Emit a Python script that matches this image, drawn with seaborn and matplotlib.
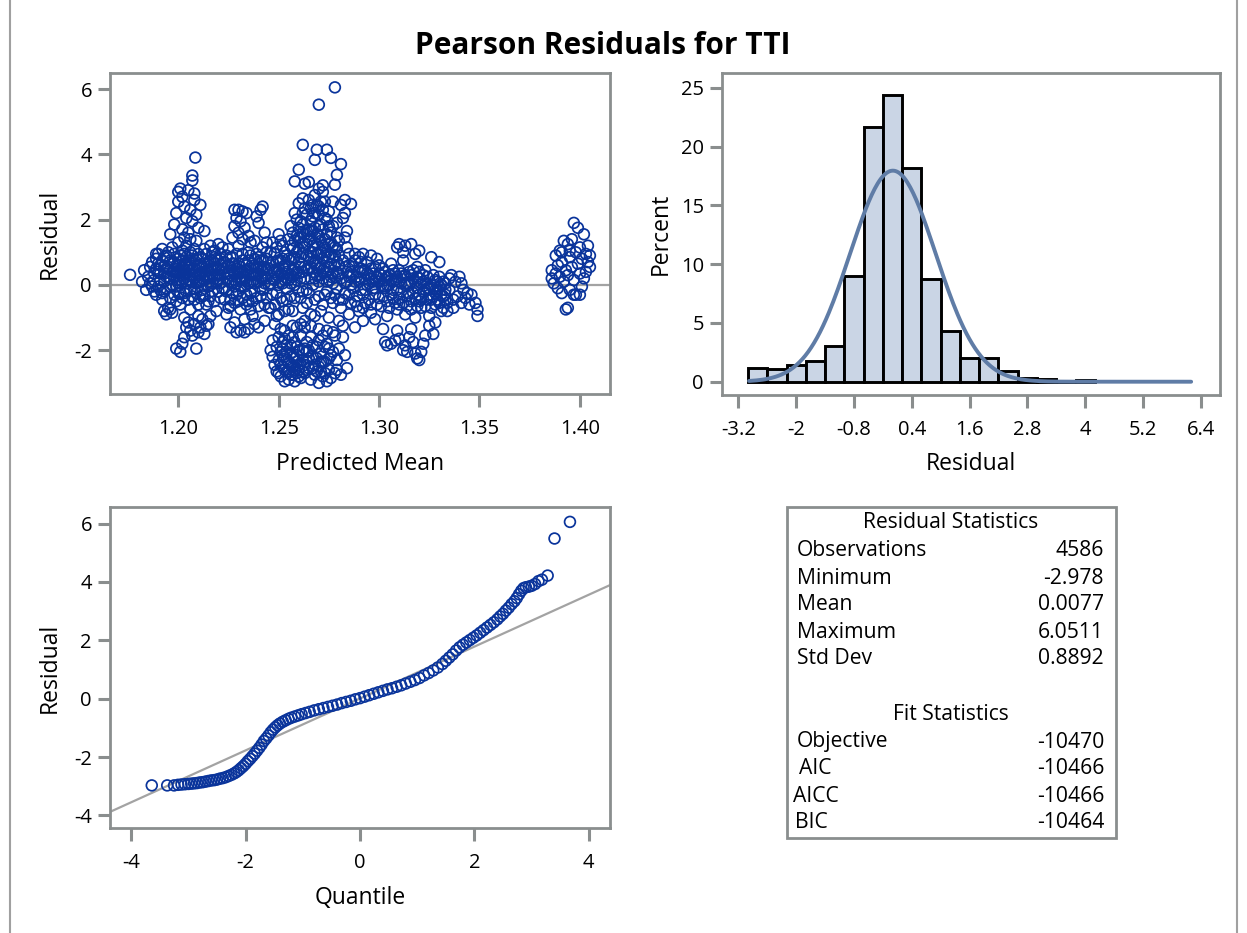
import numpy as np
import pandas as pd
import seaborn as sns
import matplotlib.pyplot as plt
from matplotlib.patches import Rectangle
from matplotlib.lines import Line2D
from statistics import NormalDist

# ---- residual statistics (from the table) ----
n_obs = 4586
res_min = -2.978
res_mean = 0.0077
res_max = 6.0511
res_std = 0.8892
stat_labels = ["Observations", "Minimum", "Mean", "Maximum", "Std Dev"]
stat_values = ["4586", "-2.978", "0.0077", "6.0511", "0.8892"]
fit_labels = ["Objective", "AIC", "AICC", "BIC"]
fit_values = ["-10470", "-10466", "-10466", "-10464"]

# ---- histogram of residuals (percent per 0.4 bin) ----
hist_mid = [-2.8, -2.4, -2.0, -1.6, -1.2, -0.8, -0.4, 0.0, 0.4, 0.8, 1.2,
            1.6, 2.0, 2.4, 2.8, 3.2, 4.0]
hist_pct = [1.13, 1.1, 1.4, 1.75, 3.0, 8.95, 21.7, 24.4, 18.2, 8.76, 4.3,
            1.98, 1.98, 0.93, 0.28, 0.2, 0.15]
bin_width = 0.4

# ---- residual vs predicted mean ----
left_band = [(1.176, 0.31), (1.182, 0.10), (1.183, 0.45), (1.184, -0.15), (1.185, 0.25), (1.186, 0.55),
             (1.187, -0.05), (1.188, 0.35), (1.189, 0.80), (1.189, -0.30), (1.191, 0.15), (1.191, 0.60),
             (1.192, 1.10), (1.192, -0.45), (1.193, 0.35), (1.194, 0.90), (1.194, -0.10), (1.195, -0.70),
             (1.195, 0.55), (1.196, 0.20), (1.197, 1.15), (1.197, -0.85), (1.198, 0.70), (1.198, -0.30),
             (1.199, 0.40), (1.200, 1.30), (1.200, 0.05), (1.201, -0.60), (1.201, 0.90), (1.202, 0.30),
             (1.203, -1.00), (1.203, 0.65), (1.204, 1.20), (1.204, -0.20), (1.205, 0.45), (1.206, -0.75),
             (1.206, 1.00), (1.207, 0.10), (1.208, 0.75), (1.208, -0.45), (1.209, 1.35), (1.210, 0.30),
             (1.210, -0.95), (1.211, 0.85), (1.212, -0.15), (1.212, 0.55), (1.213, 1.10), (1.214, -0.60),
             (1.214, 0.25), (1.215, 0.70), (1.216, -0.35), (1.217, 1.00), (1.217, 0.05), (1.218, 0.45),
             (1.219, -0.80), (1.219, 0.80), (1.220, 0.15), (1.221, -0.40), (1.221, 0.60), (1.222, 1.15),
             (1.190, 0.40), (1.193, -0.20), (1.196, 0.75), (1.199, -0.05), (1.202, 0.55), (1.205, 0.15),
             (1.207, 0.50), (1.209, -0.25), (1.211, 0.10), (1.213, 0.40), (1.215, -0.05), (1.218, 0.20),
             (1.220, 0.50), (1.198, 0.25), (1.204, 0.35), (1.210, 0.60),
             (1.186, 0.05), (1.187, 0.70), (1.188, -0.20), (1.189, 0.50), (1.190, -0.05), (1.190, 0.95),
             (1.191, 0.35), (1.192, -0.25), (1.192, 0.75), (1.193, 0.10), (1.194, 0.50), (1.195, 0.25),
             (1.195, 1.00), (1.196, -0.40), (1.197, 0.40), (1.197, 0.00), (1.198, 0.95), (1.199, 0.60),
             (1.199, -0.50), (1.200, 0.35), (1.200, 0.80), (1.201, -0.25), (1.201, 0.15), (1.202, 1.05),
             (1.202, -0.40), (1.203, 0.20), (1.203, 0.95), (1.204, 0.60), (1.205, -0.45), (1.205, 0.75),
             (1.206, 0.30), (1.206, -0.15), (1.207, 0.90), (1.207, -0.35), (1.208, 0.20), (1.208, 1.10),
             (1.209, 0.45), (1.209, 0.05), (1.210, 0.95), (1.210, -0.60), (1.211, 0.35), (1.211, -0.40),
             (1.212, 0.80), (1.212, 0.20), (1.213, -0.30), (1.213, 0.65), (1.214, 0.00), (1.214, 0.95),
             (1.215, 0.45), (1.215, -0.50), (1.216, 0.25), (1.216, 0.75), (1.217, -0.20), (1.217, 0.50),
             (1.218, -0.50), (1.218, 0.85), (1.219, 0.30), (1.219, 0.05), (1.220, -0.20), (1.220, 0.75),
             (1.221, 0.30), (1.222, -0.10), (1.222, 0.50),
             (1.188, 0.15), (1.189, 0.95), (1.190, 0.65), (1.191, -0.15), (1.193, 0.55), (1.193, 0.85),
             (1.194, 0.25), (1.196, 0.45), (1.196, -0.05), (1.197, 0.65), (1.198, 0.45), (1.199, 0.15),
             (1.200, 0.60), (1.200, -0.25), (1.201, 0.45), (1.202, 0.75), (1.202, 0.10), (1.203, -0.25),
             (1.203, 0.45), (1.204, 0.85), (1.204, 0.05), (1.205, 0.55), (1.206, 0.10), (1.206, 0.65),
             (1.207, 0.30), (1.208, -0.10), (1.208, 0.50), (1.209, 0.80), (1.209, 0.25), (1.210, 0.10),
             (1.211, 0.60), (1.212, 0.40), (1.212, -0.35), (1.213, 0.15), (1.214, 0.55), (1.215, 0.20),
             (1.216, 0.50), (1.216, 0.00), (1.217, 0.30), (1.218, 0.65), (1.219, 0.55), (1.220, 0.30),
             (1.221, 0.05), (1.221, 0.80)]
left_spikes = [(1.196, 1.55), (1.198, 1.85), (1.199, 2.20), (1.200, 2.55), (1.200, 2.85), (1.201, 2.95),
               (1.202, 2.70), (1.202, 1.70), (1.203, 2.40), (1.204, 2.05), (1.205, 2.90), (1.205, 1.60),
               (1.206, 2.30), (1.207, 3.20), (1.207, 1.95), (1.208, 2.60), (1.207, 3.35), (1.209, 2.15),
               (1.208, 2.80), (1.210, 1.75), (1.2085, 3.90), (1.211, 2.45), (1.213, 1.65), (1.203, 1.45),
               (1.206, 1.40), (1.193, -0.80), (1.194, -0.90), (1.196, -0.75), (1.199, -1.95), (1.201, -2.05),
               (1.202, -1.80), (1.203, -1.60), (1.204, -1.30), (1.205, -1.15), (1.206, -1.40), (1.207, -1.55),
               (1.208, -1.20), (1.209, -1.95), (1.210, -1.45), (1.211, -1.30), (1.212, -1.05), (1.213, -1.50),
               (1.214, -1.25), (1.215, -1.20), (1.216, -0.95), (1.216, 1.20), (1.218, 1.05), (1.220, 1.25),
               (1.221, 0.95)]
mid_band = [(1.223, -0.10), (1.223, 0.70), (1.224, -0.90), (1.225, 0.35), (1.225, 1.10), (1.226, -0.45),
            (1.227, 0.05), (1.227, 0.85), (1.228, -1.15), (1.229, 0.50), (1.229, -0.30), (1.230, 1.20),
            (1.231, 0.20), (1.231, -0.75), (1.232, 0.75), (1.233, -0.05), (1.233, -1.05), (1.234, 0.45),
            (1.235, 1.00), (1.235, -0.50), (1.236, 0.10), (1.237, 0.65), (1.237, -0.95), (1.238, -0.20),
            (1.239, 0.95), (1.239, 0.30), (1.240, -0.65), (1.241, 0.55), (1.241, -0.10), (1.242, 1.15),
            (1.243, -1.10), (1.243, 0.25), (1.244, 0.80), (1.244, -0.40), (1.245, 0.00), (1.224, 0.20),
            (1.226, 0.55), (1.228, 0.15), (1.230, -0.20), (1.232, 0.40), (1.234, -0.30), (1.236, 0.50),
            (1.238, 0.30), (1.240, 0.10), (1.242, 0.45), (1.236, -0.75), (1.226, -0.65),
            (1.223, 0.40), (1.223, -0.45), (1.224, 0.90), (1.224, -0.20), (1.225, 0.60), (1.225, -0.70),
            (1.226, 0.10), (1.226, 0.85), (1.227, -0.25), (1.227, 0.45), (1.228, -0.55), (1.228, 0.65),
            (1.229, 0.95), (1.229, 0.05), (1.230, 0.35), (1.230, -0.50), (1.231, 0.55), (1.231, -0.05),
            (1.232, -0.40), (1.232, 0.95), (1.233, 0.25), (1.233, 0.65), (1.234, -0.60), (1.234, 0.10),
            (1.235, 0.30), (1.235, 0.75), (1.236, -0.25), (1.236, 0.90), (1.237, 0.35), (1.237, -0.50),
            (1.238, 0.60), (1.238, 0.05), (1.239, -0.40), (1.239, 0.55), (1.240, 0.35), (1.240, 0.85),
            (1.241, -0.35), (1.241, 0.25), (1.242, -0.15), (1.242, 0.75), (1.243, -0.60), (1.243, 0.55),
            (1.244, 0.20), (1.244, 1.00), (1.245, -0.70), (1.245, 0.50),
            (1.224, 0.55), (1.225, 0.10), (1.226, 0.30), (1.227, 0.65), (1.228, -0.05), (1.228, 0.40),
            (1.229, 0.25), (1.230, 0.65), (1.231, 0.40), (1.232, 0.15), (1.233, 0.45), (1.234, 0.60),
            (1.235, 0.05), (1.236, 0.30), (1.237, 0.10), (1.238, 0.80), (1.239, 0.10), (1.240, 0.55),
            (1.241, 0.75), (1.242, 0.20), (1.243, 0.05), (1.244, 0.45),
            (1.227, 1.45), (1.228, 1.80), (1.228, 2.30), (1.229, 2.05), (1.230, 1.60), (1.230, 2.30),
            (1.231, 1.95), (1.232, 2.25), (1.232, 1.40), (1.233, 1.75), (1.234, 2.20), (1.235, 1.50),
            (1.238, 1.35), (1.239, 2.10), (1.240, 1.90), (1.241, 2.30), (1.242, 2.40), (1.243, 1.60),
            (1.244, 1.30), (1.236, 1.30), (1.226, -1.30), (1.229, -1.45), (1.231, -1.40), (1.233, -1.45),
            (1.235, -1.35), (1.238, -1.20), (1.240, -1.30)]
centre_band = [(1.246, 0.60), (1.246, -0.70), (1.247, 1.30), (1.247, 0.20), (1.248, -1.20), (1.248, 0.95),
               (1.249, -0.25), (1.249, 0.45), (1.250, 1.55), (1.250, -0.90), (1.251, 0.10), (1.251, 0.75),
               (1.252, -0.50), (1.252, 1.20), (1.253, -1.40), (1.253, 0.35), (1.254, 0.90), (1.254, -0.10),
               (1.255, 1.40), (1.255, -0.75), (1.256, 0.30), (1.256, 1.80), (1.257, -0.80), (1.257, 1.10),
               (1.258, 2.20), (1.258, 0.00), (1.259, 1.50), (1.259, -1.30), (1.260, 0.70), (1.260, 2.50),
               (1.261, -0.40), (1.261, 1.95), (1.262, 0.40), (1.262, 1.30), (1.263, -1.10), (1.263, 2.35),
               (1.264, 0.90), (1.264, -0.15), (1.265, 1.70), (1.265, 2.60), (1.266, 0.20), (1.266, -0.90),
               (1.267, 1.20), (1.267, 2.10), (1.268, -0.45), (1.268, 0.65), (1.269, 1.55), (1.269, 2.45),
               (1.270, 0.10), (1.270, -1.35), (1.271, 1.00), (1.271, 1.85), (1.272, -0.60), (1.272, 2.30),
               (1.273, 0.50), (1.273, 1.40), (1.274, -0.20), (1.274, 2.00), (1.275, 0.85), (1.275, -1.00),
               (1.276, 1.60), (1.276, 0.25), (1.277, 2.55), (1.277, -0.55), (1.278, 1.15), (1.278, 0.60),
               (1.279, 1.90), (1.279, -0.10), (1.280, 0.35), (1.280, 1.35), (1.258, 0.85), (1.262, -0.70),
               (1.266, 0.55), (1.270, 0.95), (1.274, 0.40), (1.262, 2.65), (1.268, 2.75), (1.272, 2.85),
               (1.266, 1.40),
               (1.246, 0.05), (1.246, 1.00), (1.247, -0.30), (1.247, 0.70), (1.248, 0.40), (1.248, -0.60),
               (1.249, 1.15), (1.249, -0.95), (1.250, 0.25), (1.250, 0.75), (1.251, -0.40), (1.251, 1.35),
               (1.252, 0.05), (1.252, 0.55), (1.253, -0.80), (1.253, 1.00), (1.254, 0.40), (1.254, -0.45),
               (1.255, 0.15), (1.255, 0.80), (1.256, -0.35), (1.256, 1.20), (1.257, 0.45), (1.257, 1.60),
               (1.258, -0.40), (1.258, 1.35), (1.259, 0.40), (1.259, 2.00), (1.260, -0.20), (1.260, 1.10),
               (1.261, 0.55), (1.261, 1.45), (1.262, -0.20), (1.262, 0.95), (1.262, 1.85), (1.263, 0.20),
               (1.263, 1.55), (1.264, -0.55), (1.264, 1.25), (1.264, 2.15), (1.265, 0.50), (1.265, -0.25),
               (1.266, 1.00), (1.266, 1.95), (1.267, 0.00), (1.267, 0.70), (1.267, 1.65), (1.268, -0.95),
               (1.268, 1.30), (1.268, 2.20), (1.269, 0.30), (1.269, 0.95), (1.270, -0.35), (1.270, 1.50),
               (1.270, 2.15), (1.271, 0.55), (1.271, -0.80), (1.272, 0.20), (1.272, 1.20), (1.272, 1.70),
               (1.273, -0.30), (1.273, 0.90), (1.273, 2.05), (1.274, 0.70), (1.274, 1.55), (1.275, 0.15),
               (1.275, 1.25), (1.275, 2.25), (1.276, -0.40), (1.276, 0.95), (1.277, 0.35), (1.277, 1.80),
               (1.278, -0.30), (1.278, 0.90), (1.279, 0.40), (1.279, 1.45), (1.280, -0.45), (1.280, 0.90),
               (1.260, 1.75), (1.266, 2.35), (1.271, 2.55), (1.277, 1.20),
               (1.247, 0.45), (1.248, 0.15), (1.249, 0.70), (1.250, 0.00), (1.250, 0.50), (1.251, 0.35),
               (1.252, 0.80), (1.253, 0.15), (1.253, 0.60), (1.254, 0.20), (1.255, 0.55), (1.256, 0.75),
               (1.256, 0.05), (1.257, 0.25), (1.257, 0.80), (1.258, 0.50), (1.259, 0.15), (1.259, 1.00),
               (1.260, 0.35), (1.260, 1.45), (1.261, 0.85), (1.261, 0.20), (1.262, 1.60), (1.263, 0.55),
               (1.263, 1.15), (1.264, 0.45), (1.264, 1.65), (1.265, 0.85), (1.265, 1.35), (1.266, 0.80),
               (1.266, 1.65), (1.267, 0.40), (1.267, 1.00), (1.268, 0.20), (1.268, 1.75), (1.269, 0.60),
               (1.269, 1.25), (1.270, 0.50), (1.270, 1.80), (1.271, 0.30), (1.271, 1.35), (1.272, 0.80),
               (1.272, 0.45), (1.273, 1.15), (1.274, 0.10), (1.274, 1.00), (1.275, 0.55), (1.275, 1.80),
               (1.276, 0.65), (1.276, 1.30), (1.277, 0.05), (1.277, 0.85), (1.278, 0.25), (1.279, 0.70),
               (1.279, 1.10), (1.280, 0.60), (1.262, 2.20), (1.267, 2.45), (1.270, 2.40), (1.273, 2.55)]
centre_spikes = [(1.262, 4.29), (1.269, 4.14), (1.274, 4.14), (1.268, 3.83), (1.276, 3.89), (1.281, 3.70),
                 (1.279, 3.37), (1.278, 3.07), (1.260, 3.53), (1.258, 3.17), (1.286, 2.48), (1.263, 3.10),
                 (1.265, 3.15), (1.270, 2.95), (1.272, 3.05), (1.283, 2.20), (1.284, 1.65), (1.283, 1.45),
                 (1.282, 2.05), (1.281, 2.45), (1.283, 2.60), (1.284, 1.15), (1.270, 5.52), (1.278, 6.05),
                 (1.246, -2.00), (1.247, -2.20), (1.247, -1.70), (1.248, -2.45), (1.249, -1.90), (1.249, -2.65),
                 (1.250, -2.30), (1.250, -1.60), (1.251, -2.80), (1.251, -2.05), (1.252, -2.50), (1.252, -1.75),
                 (1.253, -2.95), (1.253, -2.20), (1.254, -2.65), (1.254, -1.85), (1.255, -2.40), (1.255, -2.90),
                 (1.256, -2.10), (1.256, -2.75), (1.257, -1.60), (1.257, -2.50), (1.258, -2.95), (1.258, -2.25),
                 (1.259, -1.90), (1.259, -2.70), (1.260, -2.45), (1.260, -2.00), (1.261, -2.85), (1.261, -1.55),
                 (1.262, -2.30), (1.263, -2.70), (1.264, -2.05), (1.265, -2.55), (1.264, -1.75),
                 (1.266, -1.60), (1.267, -2.20), (1.268, -2.75), (1.269, -1.90), (1.270, -2.50), (1.270, -3.00),
                 (1.271, -2.10), (1.272, -2.80), (1.272, -1.55), (1.273, -2.35), (1.274, -2.95), (1.274, -1.80),
                 (1.275, -2.60), (1.276, -2.15), (1.277, -1.45), (1.278, -2.70), (1.279, -2.30), (1.280, -1.95),
                 (1.281, -2.75), (1.282, -1.60), (1.283, -2.15), (1.284, -2.55), (1.282, -1.25), (1.280, -1.10),
                 (1.250, -2.70), (1.251, -1.35), (1.252, -2.15), (1.253, -2.60), (1.254, -2.30), (1.255, -1.55),
                 (1.256, -2.45), (1.257, -2.20), (1.258, -2.60), (1.259, -2.35), (1.260, -2.80), (1.262, -2.00),
                 (1.263, -2.45), (1.263, -1.30), (1.265, -2.25), (1.266, -2.90), (1.267, -1.85), (1.268, -2.45),
                 (1.269, -2.25), (1.271, -2.65), (1.272, -2.35), (1.273, -1.90), (1.275, -2.25), (1.276, -2.85),
                 (1.277, -2.05), (1.279, -2.60), (1.257, -1.25), (1.261, -1.20), (1.266, -1.25), (1.270, -1.70),
                 (1.274, -1.40), (1.278, -1.55),
                 (1.251, -2.45), (1.252, -1.95), (1.253, -1.65), (1.254, -2.05), (1.255, -2.65), (1.256, -1.85),
                 (1.257, -2.75), (1.258, -1.75), (1.259, -2.15), (1.260, -2.60), (1.261, -2.40), (1.262, -2.65),
                 (1.263, -1.95), (1.264, -2.35), (1.265, -2.00), (1.267, -2.55), (1.269, -2.65), (1.271, -2.35),
                 (1.273, -2.70), (1.275, -1.95)]
right_band = [(1.281, 0.20), (1.281, -0.70), (1.282, 0.75), (1.283, -0.25), (1.284, 0.40), (1.285, -0.90),
              (1.285, 0.95), (1.286, 0.00), (1.287, 0.55), (1.288, -0.50), (1.289, 0.25), (1.290, 0.85),
              (1.290, -0.80), (1.291, -0.15), (1.292, 0.45), (1.293, -0.55), (1.294, 0.70), (1.295, 0.05),
              (1.296, -0.85), (1.297, 0.35), (1.298, -0.30), (1.299, 0.80), (1.300, 0.10), (1.301, -0.65),
              (1.302, 0.50), (1.303, -0.10), (1.304, -0.95), (1.305, 0.30), (1.306, 0.65), (1.307, -0.40),
              (1.308, 0.15), (1.309, -0.75), (1.310, 0.45), (1.311, -0.20), (1.312, 0.75), (1.313, -0.90),
              (1.314, 0.05), (1.315, 0.40), (1.316, -0.50), (1.317, 0.20), (1.318, -1.00), (1.319, 0.55),
              (1.320, -0.30), (1.321, -0.70), (1.322, 0.10), (1.323, 0.45), (1.324, -0.45), (1.325, -0.95),
              (1.326, 0.00), (1.327, 0.30), (1.328, -0.60), (1.329, -0.20), (1.330, 0.25), (1.331, -0.80),
              (1.332, -0.35), (1.333, 0.05), (1.334, -0.55), (1.335, -0.15), (1.283, 0.55), (1.287, -0.10),
              (1.289, -0.35), (1.293, 0.20), (1.296, 0.50), (1.300, -0.40), (1.304, 0.25), (1.307, 0.10),
              (1.311, 0.35), (1.314, -0.65), (1.317, -0.25), (1.320, 0.20), (1.323, -0.15), (1.326, -0.45),
              (1.329, 0.10), (1.332, -0.70), (1.298, 0.15), (1.309, -0.15), (1.292, -0.30), (1.302, -0.05),
              (1.316, 0.10), (1.324, -0.10),
              (1.282, -0.45), (1.284, 0.10), (1.285, 0.60), (1.286, -0.55), (1.287, 0.30), (1.288, 0.75),
              (1.289, -0.65), (1.290, 0.10), (1.291, 0.50), (1.292, -0.70), (1.293, -0.15), (1.294, 0.35),
              (1.295, -0.45), (1.296, 0.20), (1.297, -0.10), (1.298, 0.55), (1.299, -0.60), (1.300, 0.35),
              (1.301, 0.00), (1.302, -0.35), (1.303, 0.40), (1.304, -0.50), (1.305, 0.00), (1.306, -0.30),
              (1.307, 0.45), (1.308, -0.55), (1.309, 0.25), (1.310, -0.40), (1.311, 0.05), (1.312, -0.55),
              (1.313, 0.30), (1.314, -0.35), (1.315, 0.00), (1.316, -0.75), (1.317, 0.45), (1.318, -0.40),
              (1.319, -0.10), (1.320, 0.40), (1.321, -0.45), (1.322, -0.20), (1.323, -0.65), (1.324, 0.25),
              (1.325, -0.30), (1.326, -0.70), (1.327, -0.10), (1.328, 0.15), (1.329, -0.45), (1.330, -0.05),
              (1.331, -0.30), (1.332, 0.10), (1.333, -0.45), (1.334, -0.80), (1.335, 0.20), (1.333, -0.30),
              (1.319, -0.65), (1.305, -0.70), (1.291, 0.70), (1.300, 0.60),
              (1.283, 0.05), (1.285, 0.25), (1.286, 0.40), (1.288, 0.10), (1.290, 0.40), (1.291, 0.20),
              (1.293, 0.45), (1.294, 0.00), (1.295, 0.30), (1.297, 0.10), (1.298, -0.10), (1.299, 0.25),
              (1.301, 0.30), (1.303, 0.15), (1.304, 0.00), (1.306, 0.15), (1.307, -0.15), (1.308, 0.35),
              (1.310, 0.10), (1.312, 0.25), (1.313, 0.00), (1.315, -0.25), (1.316, 0.30), (1.318, 0.10),
              (1.319, 0.25), (1.321, 0.05), (1.322, 0.30), (1.324, 0.05), (1.325, -0.10), (1.327, -0.35),
              (1.328, -0.25), (1.330, -0.55), (1.331, 0.00), (1.333, -0.15), (1.310, -0.60), (1.296, -0.60),
              (1.285, -0.30), (1.320, -0.50)]
right_spikes = [(1.288, 0.95), (1.292, 0.95), (1.296, 0.90), (1.309, 1.15), (1.310, 1.25), (1.312, 1.00),
                (1.313, 1.20), (1.316, 1.25), (1.318, 0.95), (1.320, 1.05), (1.326, 0.85), (1.330, 0.70),
                (1.302, -1.35), (1.303, -1.75), (1.304, -1.85), (1.306, -1.80), (1.308, -1.70), (1.309, -1.40),
                (1.310, -1.65), (1.312, -2.00), (1.313, -1.85), (1.314, -2.05), (1.315, -1.60), (1.316, -1.35),
                (1.317, -1.75), (1.318, -2.10), (1.319, -2.25), (1.320, -2.30), (1.321, -2.05), (1.322, -1.80),
                (1.323, -1.55), (1.325, -1.25), (1.327, -1.50), (1.328, -1.15), (1.298, -1.05), (1.292, -1.10),
                (1.288, -1.30), (1.336, 0.30), (1.337, -0.70), (1.338, 0.10), (1.339, -0.35), (1.340, 0.25),
                (1.341, -0.55), (1.342, -0.15), (1.343, -0.40), (1.344, -0.25), (1.345, -0.60), (1.346, -0.30),
                (1.348, -0.55), (1.349, -0.75), (1.349, -0.95), (1.337, -0.45), (1.341, 0.05)]
far_cluster = [(1.386, 0.45), (1.386, 0.20), (1.387, 0.05), (1.388, 0.35), (1.388, 0.90), (1.389, -0.10),
               (1.389, 0.60), (1.390, 0.25), (1.390, 1.05), (1.391, -0.25), (1.391, 0.70), (1.392, 0.10),
               (1.392, 1.35), (1.393, 0.45), (1.393, -0.75), (1.394, 1.25), (1.394, 0.30), (1.395, 0.85),
               (1.395, -0.15), (1.396, 1.40), (1.396, 0.55), (1.397, 1.90), (1.397, 0.15), (1.398, 1.00),
               (1.398, -0.30), (1.399, 0.65), (1.399, 1.75), (1.400, 0.35), (1.400, 1.15), (1.401, -0.05),
               (1.401, 0.80), (1.402, 0.20), (1.402, 1.55), (1.403, 0.95), (1.403, 0.40), (1.404, 1.20),
               (1.404, 0.70), (1.405, 0.90), (1.405, 0.55), (1.394, -0.70), (1.397, -0.30), (1.400, -0.30),
               (1.391, 1.00), (1.395, 1.05)]

# ---- normal Q-Q points (quantile, residual) ----
qq_quantile = [-3.64, -3.37, -3.25, -3.18, -3.12, -3.06, -3.00, -2.95, -2.90, -2.85, -2.80, -2.75, -2.70,
               -2.65, -2.60, -2.55, -2.50, -2.45, -2.40, -2.35, -2.30, -2.25, -2.20, -2.16, -2.12, -2.08,
               -2.04, -2.00, -1.96, -1.92, -1.88, -1.84, -1.80, -1.76, -1.72, -1.68, -1.64, -1.60, -1.56,
               -1.52, -1.48, -1.44, -1.40, -1.35, -1.30, -1.25, -1.20, -1.14, -1.08, -1.02, -0.95, -0.88,
               -0.80, -0.72, -0.64, -0.56, -0.48, -0.40, -0.32, -0.24, -0.16, -0.08, 0.00, 0.08, 0.16, 0.24,
               0.32, 0.40, 0.48, 0.56, 0.64, 0.72, 0.80, 0.88, 0.96, 1.04, 1.12, 1.20, 1.28, 1.36, 1.44,
               1.50, 1.56, 1.62, 1.68, 1.74, 1.80, 1.86, 1.92, 1.98, 2.04, 2.10, 2.16, 2.22, 2.28, 2.34,
               2.40, 2.45, 2.50, 2.55, 2.60, 2.65, 2.70, 2.74, 2.78, 2.82, 2.86, 2.90, 2.95, 3.00, 3.06,
               3.12, 3.18, 3.28, 3.40, 3.67]
qq_residual = [-2.97, -2.97, -2.97, -2.95, -2.94, -2.93, -2.92, -2.91, -2.90, -2.89, -2.87, -2.86, -2.84,
               -2.82, -2.80, -2.79, -2.77, -2.74, -2.72, -2.69, -2.65, -2.61, -2.56, -2.51, -2.45, -2.38,
               -2.31, -2.23, -2.14, -2.06, -1.97, -1.88, -1.78, -1.68, -1.57, -1.45, -1.36, -1.26, -1.15,
               -1.06, -0.98, -0.91, -0.85, -0.79, -0.74, -0.69, -0.65, -0.61, -0.57, -0.53, -0.49, -0.45,
               -0.40, -0.36, -0.32, -0.28, -0.24, -0.20, -0.15, -0.11, -0.07, -0.02, 0.02, 0.07, 0.12, 0.17,
               0.22, 0.27, 0.32, 0.36, 0.41, 0.46, 0.52, 0.58, 0.64, 0.71, 0.80, 0.88, 0.97, 1.07, 1.19,
               1.30, 1.41, 1.52, 1.65, 1.76, 1.85, 1.93, 2.01, 2.09, 2.17, 2.26, 2.35, 2.44, 2.53, 2.62,
               2.72, 2.82, 2.91, 3.02, 3.12, 3.24, 3.34, 3.45, 3.58, 3.70, 3.79, 3.82, 3.84, 3.87, 3.93,
               4.03, 4.08, 4.22, 5.49, 6.06]

# ---- style ----
W, H = 1247, 933
blue = "#0a349b"
grey = "#8a8e8e"
sns.set_theme(style="white")
plt.rcParams["font.family"] = ["Open Sans", "DejaVu Sans"]
plt.rcParams["axes.unicode_minus"] = False
plt.rcParams["text.color"] = "black"
plt.rcParams["axes.labelcolor"] = "black"
plt.rcParams["xtick.labelcolor"] = "black"
plt.rcParams["ytick.labelcolor"] = "black"

fig = plt.figure(figsize=(W / 100, H / 100), dpi=100)
tick_fs = 14.5
label_fs = 16.5
table_fs = 15.2


def add_panel(left, top, right, bottom):
    return fig.add_axes([left / W, 1 - bottom / H, (right - left) / W, (bottom - top) / H])


def style_axes(ax):
    ax.tick_params(axis="both", length=9, width=2.2, color=grey, direction="out",
                   labelsize=tick_fs, bottom=True, left=True)
    ax.tick_params(axis="x", pad=9)
    ax.tick_params(axis="y", pad=4)
    for sp in ax.spines.values():
        sp.set_color(grey)
        sp.set_linewidth(2.0)


marker_kw = dict(marker="o", s=60, facecolor="none", edgecolor=blue, linewidth=1.25, legend=False)

# --- top-left: residual vs predicted mean ---
scatter_pts = left_band + left_spikes + mid_band + centre_band + centre_spikes + right_band + right_spikes + far_cluster
df_sc = pd.DataFrame(scatter_pts, columns=["mean", "resid"])
ax1 = add_panel(110, 73, 610, 394)
ax1.axhline(0, color="#a3a3a3", lw=1.6, zorder=0)
sns.scatterplot(data=df_sc, x="mean", y="resid", ax=ax1, **marker_kw)
ax1.set_xlim(1.166, 1.415)
ax1.set_ylim(-3.34, 6.49)
ax1.set_xticks([1.20, 1.25, 1.30, 1.35, 1.40])
ax1.set_xticklabels(["1.20", "1.25", "1.30", "1.35", "1.40"])
ax1.set_yticks([-2, 0, 2, 4, 6])
ax1.set_xlabel("Predicted Mean", fontsize=label_fs, labelpad=9)
ax1.set_ylabel("Residual", fontsize=label_fs, labelpad=9)
style_axes(ax1)

# --- top-right: histogram with normal curve ---
n_edges = int(round((hist_mid[-1] - hist_mid[0]) / bin_width)) + 2
edges = [round(hist_mid[0] - bin_width / 2 + k * bin_width, 2) for k in range(n_edges)]
ax2 = add_panel(722, 73, 1220, 395)
sns.histplot(x=hist_mid, weights=hist_pct, bins=edges, ax=ax2, color="#cad5e5",
             edgecolor="black", linewidth=2.1, alpha=1.0)
nd = NormalDist(res_mean, res_std)
xs = np.linspace(res_min, res_max + 0.15, 300)
ys = [100 * bin_width * nd.pdf(v) for v in xs]
sns.lineplot(x=xs, y=ys, ax=ax2, color="#5f7ca6", lw=2.8)
ax2.set_xlim(-3.54, 6.8)
ax2.set_ylim(-1.13, 26.25)
xt = [-3.2, -2.0, -0.8, 0.4, 1.6, 2.8, 4.0, 5.2, 6.4]
ax2.set_xticks(xt)
ax2.set_xticklabels(["-3.2", "-2", "-0.8", "0.4", "1.6", "2.8", "4", "5.2", "6.4"])
ax2.set_yticks([0, 5, 10, 15, 20, 25])
ax2.set_xlabel("Residual", fontsize=label_fs, labelpad=9)
ax2.set_ylabel("Percent", fontsize=label_fs, labelpad=6)
style_axes(ax2)

# --- bottom-left: Q-Q plot ---
ax3 = add_panel(110, 507, 610, 828)
ax3.axline((0, res_mean), slope=res_std, color="#a3a3a3", lw=1.6, zorder=0)
sns.scatterplot(x=qq_quantile, y=qq_residual, ax=ax3, **marker_kw)
ax3.set_xlim(-4.37, 4.37)
ax3.set_ylim(-4.43, 6.57)
ax3.set_xticks([-4, -2, 0, 2, 4])
ax3.set_yticks([-4, -2, 0, 2, 4, 6])
ax3.set_xlabel("Quantile", fontsize=label_fs, labelpad=9)
ax3.set_ylabel("Residual", fontsize=label_fs, labelpad=9)
style_axes(ax3)

# --- bottom-right: statistics table ---
fig.add_artist(Rectangle((787 / W, 1 - 838 / H), (1116 - 787) / W, (838 - 507) / H,
                         transform=fig.transFigure, facecolor="none", edgecolor=grey, lw=2.0))
row_y = [551, 578, 605, 632, 659]
fig.text(951 / W, 1 - 523 / H, "Residual Statistics", ha="center", va="center", fontsize=table_fs)
for lab, val, y in zip(stat_labels, stat_values, row_y):
    fig.text(797 / W, 1 - y / H, lab, ha="left", va="center", fontsize=table_fs)
    fig.text(1104 / W, 1 - y / H, val, ha="right", va="center", fontsize=table_fs)
fig.text(951 / W, 1 - 715 / H, "Fit Statistics", ha="center", va="center", fontsize=table_fs)
fit_y = [742, 769, 796, 823]
fit_x = [797, 799, 793, 795]
for lab, val, y, x in zip(fit_labels, fit_values, fit_y, fit_x):
    fig.text(x / W, 1 - y / H, lab, ha="left", va="center", fontsize=table_fs)
    fig.text(1104 / W, 1 - y / H, val, ha="right", va="center", fontsize=table_fs)

# title and outer border
fig.text(603 / W, 1 - 46 / H, "Pearson Residuals for TTI", ha="center", va="center",
         fontsize=21.5, fontweight="bold")
for xb in (10, 1237):
    fig.add_artist(Line2D([xb / W, xb / W], [0, 1], transform=fig.transFigure, color="#a0a0a0", lw=1.5))

fig.savefig("out.png", dpi=100)
